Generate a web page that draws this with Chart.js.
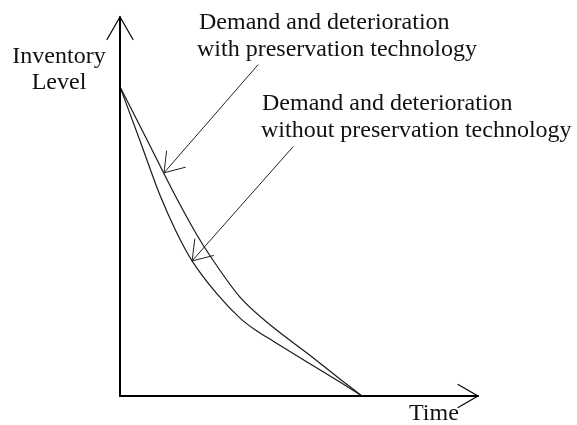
<!DOCTYPE html>
<html>
<head>
<meta charset="utf-8">
<title>Inventory Level vs Time</title>
<script src="https://cdn.jsdelivr.net/npm/chart.js@4/dist/chart.umd.min.js"></script>
<style>
    html, body { margin: 0; padding: 0; background: #fff; }
    .chart-wrap { width: 577px; height: 425px; position: relative; }
</style>
</head>
<body>
<div class="chart-wrap">
    <canvas id="inventoryChart"></canvas>
</div>
<script>
// ====================================
// INVENTORY LEVEL - PRESERVATION SKETCH
// ====================================

// ---- Data (time as fraction of cycle, inventory as % of start level) ----
const timeWith = [0, 0.112, 0.227, 0.318, 0.384, 0.496, 0.632, 0.773, 0.909, 1];
const levelWith = [100, 82.8, 65, 52.1, 44.0, 32.0, 22.3, 13.9, 5.5, 0];

const timeWithout = [0, 0.083, 0.165, 0.231, 0.298, 0.401, 0.496, 0.566, 0.632, 0.773, 0.909, 1];
const levelWithout = [100, 82.5, 65, 53.4, 43.7, 33.0, 25.2, 21.0, 17.8, 11.0, 4.5, 0];

const axisTimeMax = 1.48;
const axisLevelMax = 122.6;

// annotation arrows: [startTime, startLevel, tipTime, tipLevel]
const arrowWith = [0.570, 107.1, 0.182, 72.2];
const arrowWithout = [0.715, 80.6, 0.298, 43.7];

const labelWith = ['Demand and deterioration', 'with preservation technology'];
const labelWithout = ['Demand and deterioration', 'without preservation technology'];
const axisLabelY = ['Inventory', 'Level'];
const axisLabelX = 'Time';

// ---- Helpers ----
function toPoints(xs, ys) {
    return xs.map((x, i) => ({ x: x, y: ys[i] }));
}

function drawArrowHead(ctx, tipX, tipY, fromX, fromY, len, angle) {
    const dir = Math.atan2(fromY - tipY, fromX - tipX);
    ctx.beginPath();
    ctx.moveTo(tipX + len * Math.cos(dir - angle), tipY + len * Math.sin(dir - angle));
    ctx.lineTo(tipX, tipY);
    ctx.lineTo(tipX + len * Math.cos(dir + angle), tipY + len * Math.sin(dir + angle));
    ctx.stroke();
}

// ---- Sketch plugin: axes, arrows, texts ----
const sketchPlugin = {
    id: 'sketchPlugin',
    afterDatasetsDraw(chart) {
        const ctx = chart.ctx;
        const xs = chart.scales.x;
        const ys = chart.scales.y;
        const x0 = xs.getPixelForValue(0);
        const y0 = ys.getPixelForValue(0);
        const xEnd = xs.getPixelForValue(axisTimeMax);
        const yEnd = ys.getPixelForValue(axisLevelMax);

        ctx.save();
        ctx.strokeStyle = '#000';
        ctx.lineCap = 'round';

        // axes
        ctx.lineWidth = 2;
        ctx.beginPath();
        ctx.moveTo(x0, yEnd);
        ctx.lineTo(x0, y0);
        ctx.lineTo(xEnd, y0);
        ctx.stroke();

        ctx.lineWidth = 1.2;
        drawArrowHead(ctx, x0, yEnd, x0, y0, 26, Math.PI / 6);
        drawArrowHead(ctx, xEnd, y0, x0, y0, 23, Math.PI / 6);

        // annotation arrows
        [arrowWith, arrowWithout].forEach(a => {
            const sx = xs.getPixelForValue(a[0]);
            const sy = ys.getPixelForValue(a[1]);
            const tx = xs.getPixelForValue(a[2]);
            const ty = ys.getPixelForValue(a[3]);
            ctx.lineWidth = 1;
            ctx.strokeStyle = '#222';
            ctx.beginPath();
            ctx.moveTo(sx, sy);
            ctx.lineTo(tx, ty);
            ctx.stroke();
            drawArrowHead(ctx, tx, ty, sx, sy, 22, 0.6);
        });

        // texts
        ctx.fillStyle = '#111';
        ctx.font = '24px "Liberation Serif", "Times New Roman", serif';
        ctx.textBaseline = 'alphabetic';

        ctx.textAlign = 'center';
        ctx.fillText(axisLabelY[0], 59, 63);
        ctx.fillText(axisLabelY[1], 59, 89);

        ctx.textAlign = 'left';
        ctx.fillText(labelWith[0], 199, 29);
        ctx.fillText(labelWith[1], 197, 56);
        ctx.fillText(labelWithout[0], 262, 110);
        ctx.fillText(labelWithout[1], 261, 137);
        ctx.fillText(axisLabelX, 409, 420);

        ctx.restore();
    }
};

// ---- Chart ----
function initInventoryChart() {
    const ctx = document.getElementById('inventoryChart');

    new Chart(ctx, {
        type: 'line',
        data: {
            datasets: [
                {
                    label: 'With preservation technology',
                    data: toPoints(timeWith, levelWith),
                    borderColor: '#1a1a1a',
                    borderWidth: 1.2,
                    pointRadius: 0,
                    cubicInterpolationMode: 'monotone',
                    fill: false
                },
                {
                    label: 'Without preservation technology',
                    data: toPoints(timeWithout, levelWithout),
                    borderColor: '#1a1a1a',
                    borderWidth: 1.2,
                    pointRadius: 0,
                    cubicInterpolationMode: 'monotone',
                    fill: false
                }
            ]
        },
        options: {
            responsive: true,
            maintainAspectRatio: false,
            animation: false,
            devicePixelRatio: 1,
            layout: {
                padding: { left: 120, right: 99, top: 17, bottom: 29 }
            },
            plugins: {
                legend: { display: false },
                tooltip: { enabled: false }
            },
            scales: {
                x: {
                    type: 'linear',
                    min: 0,
                    max: axisTimeMax,
                    display: false
                },
                y: {
                    type: 'linear',
                    min: 0,
                    max: axisLevelMax,
                    display: false
                }
            }
        },
        plugins: [sketchPlugin]
    });
}

initInventoryChart();
</script>
</body>
</html>
